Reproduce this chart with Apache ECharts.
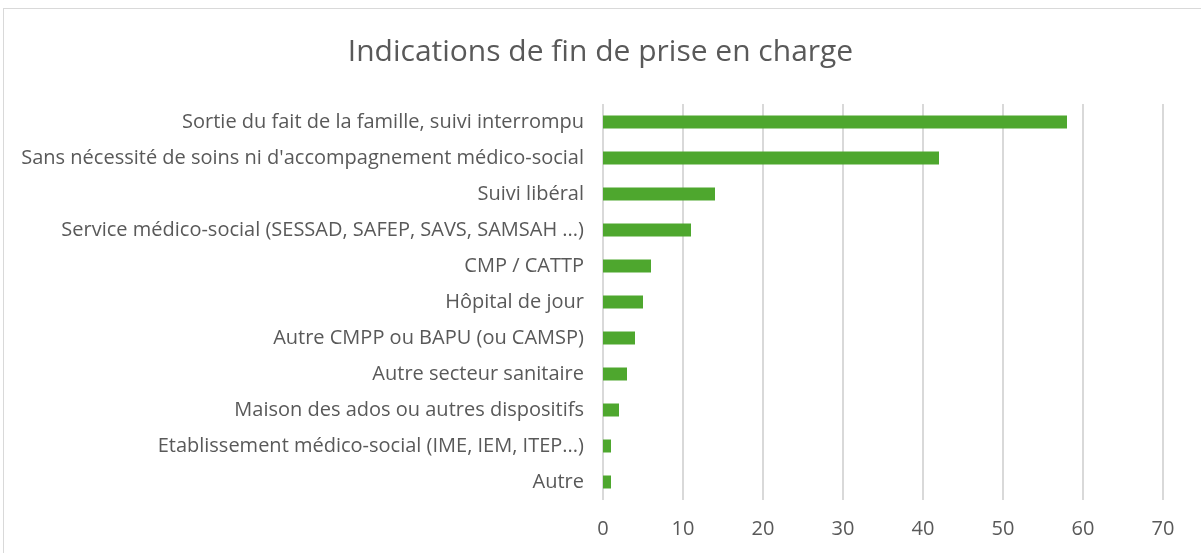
<!DOCTYPE html>
<html>
<head>
<meta charset="utf-8">
<script src="https://cdn.jsdelivr.net/npm/echarts@6/dist/echarts.min.js"></script>
<style>
    html, body { margin: 0; padding: 0; background: #fff; }
    #frame { position: absolute; left: 3px; top: 8px; width: 1210px; height: 560px; border: 1px solid #d9d9d9; }
    #chart { position: absolute; left: 0; top: 0; width: 1201px; height: 553px; }
</style>
</head>
<body>
<div id="frame"></div>
<div id="chart"></div>
<script>
var categories = [
    'Sortie du fait de la famille, suivi interrompu',
    "Sans nécessité de soins ni d'accompagnement médico-social",
    'Suivi libéral',
    'Service médico-social (SESSAD, SAFEP, SAVS, SAMSAH ...)',
    'CMP / CATTP',
    'Hôpital de jour',
    'Autre CMPP ou BAPU (ou CAMSP)',
    'Autre secteur sanitaire',
    'Maison des ados ou autres dispositifs',
    'Etablissement médico-social (IME, IEM, ITEP...)',
    'Autre'
];
var values = [58, 42, 14, 11, 6, 5, 4, 3, 2, 1, 1];

var chart = echarts.init(document.getElementById('chart'));

var option = {
    animation: false,
    title: {
        text: 'Indications de fin de prise en charge',
        left: 'center',
        top: 32,
        textStyle: {
            fontFamily: 'Open Sans',
            fontWeight: 'normal',
            fontSize: 30,
            color: '#595959'
        }
    },
    grid: {
        left: 603,
        right: 38,
        top: 104,
        bottom: 53
    },
    xAxis: {
        type: 'value',
        min: 0,
        max: 70,
        interval: 10,
        axisLine: { show: false },
        axisTick: { show: false },
        axisLabel: {
            margin: 19,
            fontFamily: 'Open Sans',
            fontSize: 20,
            color: '#595959'
        },
        splitLine: { lineStyle: { color: '#d9d9d9', width: 2 } }
    },
    yAxis: {
        type: 'category',
        inverse: true,
        data: categories,
        axisLine: { show: false },
        axisTick: { show: false },
        axisLabel: {
            margin: 19,
            fontFamily: 'Open Sans',
            fontSize: 20,
            color: '#595959'
        }
    },
    series: [
        {
            type: 'bar',
            data: values,
            barWidth: 13,
            itemStyle: { color: '#4ea72e' }
        }
    ]
};

chart.setOption(option);
</script>
</body>
</html>
